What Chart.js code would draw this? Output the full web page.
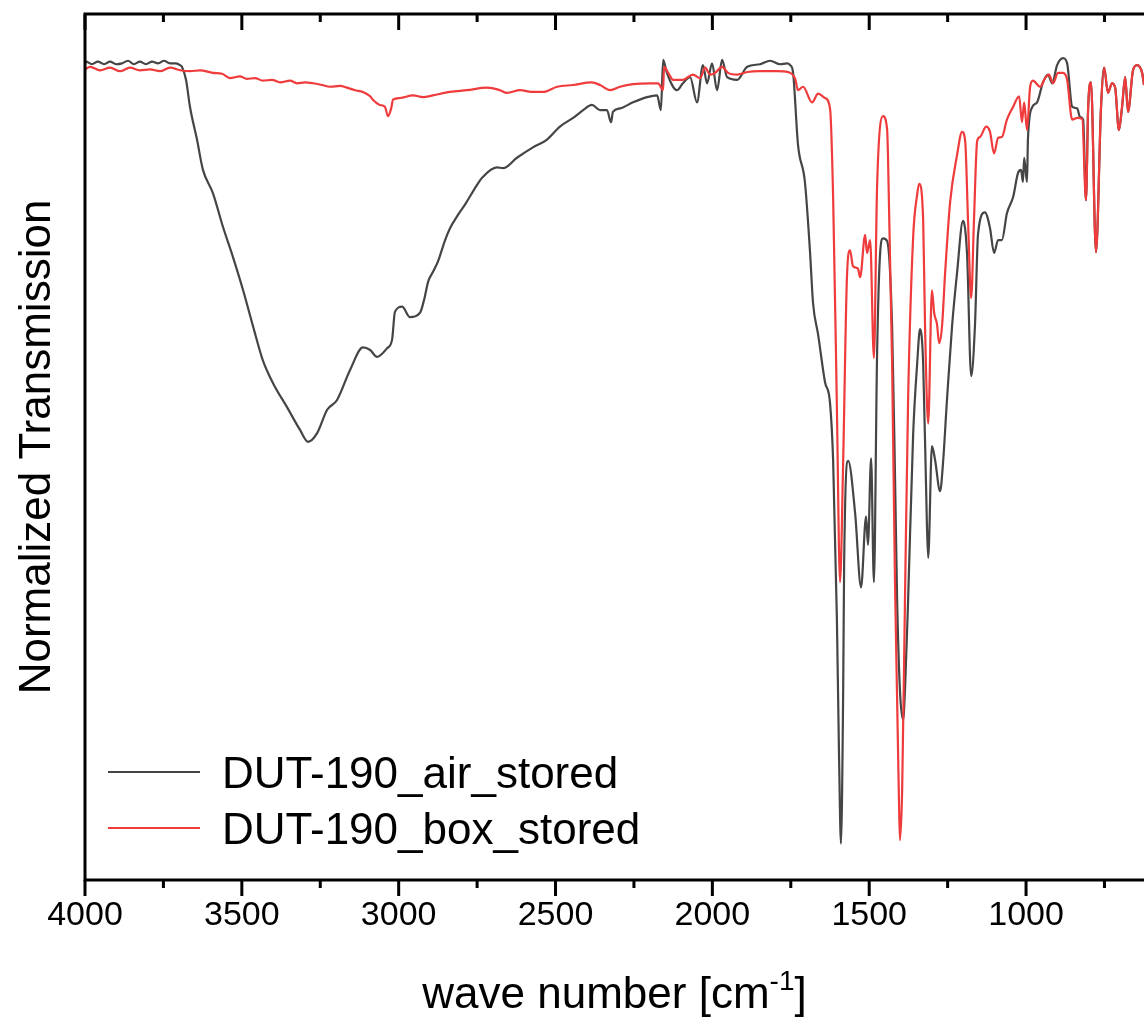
<!DOCTYPE html>
<html>
<head>
<meta charset="utf-8">
<script src="https://cdn.jsdelivr.net/npm/chart.js@4.4.1/dist/chart.umd.min.js"></script>
<style>
  html, body { margin: 0; padding: 0; background: #fff; overflow: hidden; }
  #wrap { width: 1144px; height: 1023px; position: relative; }
</style>
</head>
<body>
<div id="wrap"><canvas id="chart"></canvas></div>
<script>
// wave numbers (cm-1) and normalized transmission (%)
var airWave = [4000, 3997, 3978, 3959, 3939, 3920, 3901, 3882, 3863, 3844, 3825, 3806, 3786, 3767, 3748, 3729, 3710, 3697, 3691, 3678,
  3665, 3643, 3624, 3592, 3560, 3528, 3496, 3464, 3433, 3401, 3356, 3315, 3289, 3260, 3228, 3197, 3155, 3114, 3091, 3069,
  3037, 3021, 3012, 2989, 2964, 2932, 2919, 2906, 2891, 2875, 2852, 2836, 2811, 2785, 2760, 2734, 2687, 2667, 2623, 2572,
  2527, 2486, 2444, 2412, 2384, 2358, 2336, 2323, 2317, 2294, 2253, 2208, 2176, 2164, 2157, 2145, 2113, 2094, 2071, 2049,
  2030, 2017, 2001, 1985, 1969, 1953, 1921, 1889, 1848, 1816, 1784, 1762, 1752, 1743, 1727, 1705, 1689, 1679, 1663, 1641,
  1625, 1615, 1603, 1596, 1590, 1583, 1580, 1567, 1545, 1526, 1510, 1504, 1494, 1485, 1475, 1465, 1456, 1443, 1427, 1418,
  1411, 1402, 1392, 1386, 1376, 1360, 1347, 1338, 1328, 1316, 1312, 1300, 1290, 1274, 1265, 1252, 1236, 1220, 1201, 1188,
  1175, 1163, 1153, 1131, 1115, 1102, 1089, 1077, 1061, 1041, 1026, 1016, 1010, 1006, 997, 994, 981, 965, 946, 930,
  917, 901, 882, 869, 853, 837, 828, 818, 809, 802, 793, 777, 761, 751, 739, 726, 716, 704, 694, 684,
  675, 659, 646, 630, 624];
var airT = [94.3, 94.5, 94.2, 94.5, 94.2, 94.5, 94.2, 94.3, 94.6, 94.2, 94.5, 94.2, 94.5, 94.3, 94.6, 94.3, 94.3, 94.1, 93.9, 92.4,
  89.2, 85.5, 82.0, 79.3, 75.4, 71.9, 68.1, 63.9, 60.0, 57.4, 54.6, 52.0, 50.6, 51.6, 54.3, 55.4, 58.9, 61.5, 61.2, 60.4,
  61.4, 62.4, 65.6, 66.2, 65.0, 65.5, 67.0, 69.1, 70.2, 71.4, 73.9, 75.3, 76.8, 78.2, 79.7, 81.1, 82.3, 82.2, 83.4, 84.6,
  85.5, 87.0, 88.0, 88.9, 89.5, 88.9, 88.9, 87.5, 88.7, 89.1, 89.8, 90.4, 90.6, 88.9, 94.7, 93.2, 91.2, 92.0, 92.7, 89.8,
  94.1, 92.0, 94.3, 91.2, 94.7, 92.7, 92.4, 93.9, 94.2, 94.6, 94.2, 94.3, 94.1, 93.3, 84.9, 80.6, 72.7, 66.6, 63.0, 57.5,
  55.1, 48.4, 30.1, 13.9, 4.2, 21.9, 36.3, 48.4, 42.4, 33.8, 42.0, 38.7, 48.7, 34.4, 60.5, 72.5, 74.1, 73.8, 63.9, 47.2,
  32.3, 21.9, 18.5, 21.9, 32.3, 51.4, 59.7, 63.6, 59.7, 41.0, 37.2, 50.1, 48.5, 44.9, 48.0, 55.5, 63.9, 70.1, 76.1, 72.2,
  58.2, 63.9, 74.6, 77.1, 75.3, 72.4, 73.9, 73.9, 77.0, 78.9, 81.6, 82.0, 80.6, 83.4, 80.6, 85.5, 89.2, 89.8, 92.1, 93.0,
  92.0, 94.1, 94.9, 94.3, 89.3, 89.1, 88.1, 87.8, 78.5, 89.2, 92.1, 72.5, 89.2, 93.8, 90.9, 92.0, 91.5, 86.6, 89.2, 92.7,
  88.7, 93.5, 94.1, 93.2, 91.8];

var boxWave = [4000, 3984, 3952, 3920, 3888, 3857, 3825, 3793, 3761, 3729, 3697, 3665, 3633, 3592, 3563, 3538, 3506, 3484, 3458, 3433,
  3404, 3378, 3346, 3324, 3299, 3273, 3244, 3219, 3187, 3165, 3139, 3114, 3091, 3082, 3060, 3044, 3034, 3024, 3018, 2996,
  2954, 2922, 2891, 2836, 2782, 2718, 2677, 2655, 2613, 2572, 2540, 2495, 2444, 2384, 2358, 2326, 2294, 2253, 2199, 2173,
  2157, 2154, 2141, 2125, 2094, 2062, 2039, 2023, 2007, 1991, 1969, 1950, 1921, 1889, 1848, 1794, 1759, 1736, 1727, 1711,
  1682, 1663, 1641, 1625, 1615, 1603, 1593, 1583, 1571, 1561, 1552, 1536, 1529, 1513, 1507, 1497, 1485, 1475, 1456, 1443,
  1440, 1427, 1418, 1411, 1405, 1402, 1395, 1386, 1376, 1360, 1347, 1341, 1328, 1322, 1312, 1300, 1293, 1284, 1277, 1268,
  1258, 1242, 1220, 1204, 1194, 1185, 1175, 1166, 1156, 1147, 1127, 1115, 1102, 1089, 1077, 1061, 1041, 1022, 1013, 1006,
  997, 987, 978, 955, 939, 927, 914, 898, 882, 869, 853, 837, 821, 809, 802, 793, 777, 761, 751, 739,
  726, 716, 704, 694, 684, 675, 659, 646, 630, 624];
var boxT = [93.6, 93.9, 93.5, 93.8, 93.4, 93.8, 93.5, 93.6, 93.4, 93.8, 93.5, 93.4, 93.5, 93.2, 93.1, 92.6, 92.8, 92.5, 92.6, 92.3,
  92.4, 92.1, 92.3, 92.0, 92.1, 92.0, 91.8, 91.6, 91.7, 91.5, 91.2, 91.0, 90.5, 90.1, 89.5, 89.3, 88.2, 89.1, 90.1, 90.3,
  90.6, 90.4, 90.6, 91.0, 91.2, 91.5, 91.2, 90.9, 91.2, 91.0, 91.0, 91.6, 91.8, 92.1, 91.8, 91.2, 91.6, 91.9, 92.0, 92.0,
  91.2, 93.9, 93.2, 92.4, 92.4, 93.0, 92.6, 93.8, 93.0, 93.2, 93.9, 93.2, 93.0, 93.3, 93.4, 93.4, 93.3, 92.5, 91.2, 91.6,
  89.8, 90.8, 90.3, 89.1, 78.8, 54.5, 34.4, 48.4, 69.6, 72.7, 70.9, 70.6, 69.6, 74.5, 72.4, 73.9, 60.3, 80.0, 88.2, 86.7,
  83.4, 59.7, 34.9, 20.8, 8.9, 4.6, 10.4, 32.3, 55.5, 74.2, 79.2, 80.4, 76.2, 63.9, 52.7, 68.1, 65.5, 64.2, 62.0, 63.9,
  70.1, 78.3, 83.7, 86.4, 85.3, 76.2, 67.2, 76.2, 85.3, 85.8, 87.0, 86.4, 83.9, 85.7, 85.8, 87.8, 89.3, 90.5, 87.5, 89.8,
  86.6, 91.6, 92.3, 91.6, 92.6, 93.0, 92.0, 93.2, 93.2, 92.4, 87.8, 88.0, 87.9, 78.5, 89.3, 92.1, 72.5, 89.3, 93.8, 90.9,
  92.0, 91.5, 86.6, 89.3, 92.7, 88.7, 93.5, 94.1, 93.2, 91.8];

var seriesNames = ["DUT-190_air_stored", "DUT-190_box_stored"];
var seriesColors = ["#454545", "#ef3b3b"];
var tickLabels = [4000, 3500, 3000, 2500, 2000, 1500, 1000];
var minorStep = 250;

var FONT = "Arial, 'Liberation Sans', sans-serif";
Chart.defaults.font.family = FONT;
Chart.defaults.color = "#000";

function toPoints(xs, ys) {
  return xs.map(function (x, i) { return { x: x, y: ys[i] }; });
}

// axes frame, ticks, titles and legend
var framePlugin = {
  id: "frame",
  afterDraw: function (chart) {
    var ctx = chart.ctx;
    var a = chart.chartArea;
    var xs = chart.scales.x;
    ctx.save();
    ctx.strokeStyle = "#000";
    ctx.lineWidth = 3;
    ctx.beginPath();
    ctx.moveTo(a.left, a.top);
    ctx.lineTo(a.right, a.top);
    ctx.moveTo(a.left, a.top - 1.5);
    ctx.lineTo(a.left, a.bottom + 1.5);
    ctx.moveTo(a.left, a.bottom);
    ctx.lineTo(a.right, a.bottom);
    ctx.stroke();

    ctx.beginPath();
    for (var v = 4000; v >= xs.min; v -= minorStep) {
      var px = xs.getPixelForValue(v);
      var len = (v % 500 === 0) ? 16 : 8;
      ctx.moveTo(px, a.bottom);
      ctx.lineTo(px, a.bottom + len);
      ctx.moveTo(px, a.top);
      ctx.lineTo(px, a.top + len);
    }
    ctx.stroke();

    // y title
    ctx.fillStyle = "#000";
    ctx.font = "44px " + FONT;
    ctx.textAlign = "center";
    ctx.textBaseline = "alphabetic";
    ctx.save();
    ctx.translate(50, (a.top + a.bottom) / 2);
    ctx.rotate(-Math.PI / 2);
    ctx.fillText("Normalized Transmission", 0, 0);
    ctx.restore();

    // x title with superscript
    var main = "wave number [cm";
    var sup = "-1";
    var end = "]";
    ctx.font = "44px " + FONT;
    var w1 = ctx.measureText(main).width;
    var w3 = ctx.measureText(end).width;
    ctx.font = "28px " + FONT;
    var w2 = ctx.measureText(sup).width;
    var cx = (a.left + a.right) / 2;
    var sx = cx - (w1 + w2 + w3) / 2;
    var base = 1008;
    ctx.textAlign = "left";
    ctx.font = "44px " + FONT;
    ctx.fillText(main, sx, base);
    ctx.font = "28px " + FONT;
    ctx.fillText(sup, sx + w1, base - 18);
    ctx.font = "44px " + FONT;
    ctx.fillText(end, sx + w1 + w2, base);

    // legend
    var rows = [772, 828];
    for (var i = 0; i < seriesNames.length; i++) {
      ctx.strokeStyle = seriesColors[i];
      ctx.lineWidth = 2;
      ctx.beginPath();
      ctx.moveTo(108, rows[i]);
      ctx.lineTo(200, rows[i]);
      ctx.stroke();
      ctx.fillStyle = "#000";
      ctx.font = "44px " + FONT;
      ctx.textAlign = "left";
      ctx.fillText(seriesNames[i], 222, rows[i] + 15.5);
    }
    ctx.restore();
  }
};

var ctx = document.getElementById("chart");
var chart = new Chart(ctx, {
  type: "line",
  data: {
    datasets: [
      {
        label: seriesNames[1],
        data: toPoints(boxWave, boxT),
        borderColor: seriesColors[1],
        borderWidth: 2.2,
        pointRadius: 0,
        fill: false,
        cubicInterpolationMode: "monotone",
        order: 0
      },
      {
        label: seriesNames[0],
        data: toPoints(airWave, airT),
        borderColor: seriesColors[0],
        borderWidth: 2.2,
        pointRadius: 0,
        fill: false,
        cubicInterpolationMode: "monotone",
        order: 1
      }
    ]
  },
  options: {
    responsive: true,
    maintainAspectRatio: false,
    animation: false,
    layout: { padding: { left: 85, top: 14, right: 0, bottom: 0 } },
    plugins: {
      legend: { display: false },
      tooltip: { enabled: false }
    },
    scales: {
      x: {
        type: "linear",
        reverse: true,
        min: 624,
        max: 4000,
        grid: { display: false, drawTicks: false },
        border: { display: false },
        ticks: {
          font: { size: 34 },
          color: "#000",
          padding: 15,
          maxRotation: 0,
          autoSkip: false,
          callback: function (value) { return String(value); }
        },
        afterBuildTicks: function (scale) {
          scale.ticks = tickLabels.map(function (v) { return { value: v }; });
        },
        afterFit: function (scale) {
          scale.height = 143;
        }
      },
      y: {
        display: false,
        min: 0,
        max: 100
      }
    }
  },
  plugins: [framePlugin]
});
</script>
</body>
</html>
